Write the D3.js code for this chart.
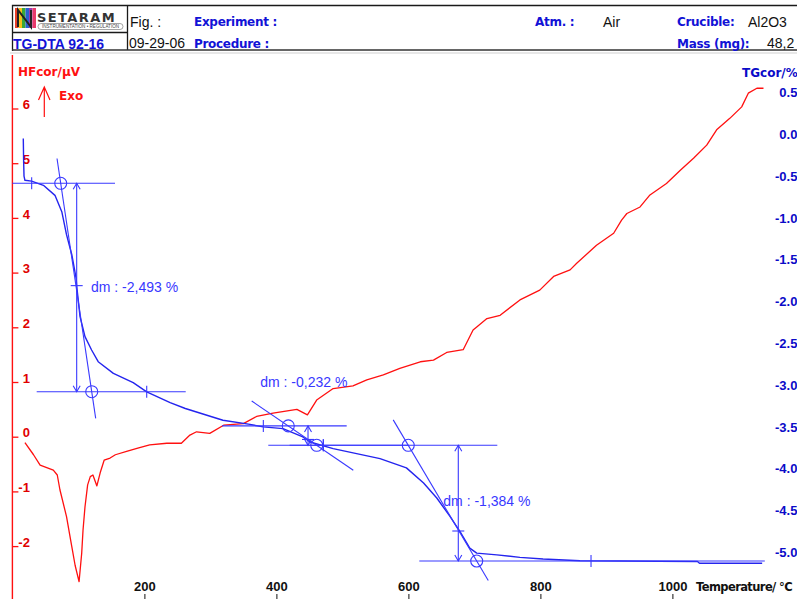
<!DOCTYPE html>
<html>
<head>
<meta charset="utf-8">
<script src="https://cdn.jsdelivr.net/npm/d3@7"></script>
<style>
  html, body { margin: 0; padding: 0; background: #fff; }
  svg { display: block; }
  text { font-family: "Liberation Sans", Arial, sans-serif; }
</style>
</head>
<body>
<svg id="chart" width="797" height="599"></svg>
<script>
// DTA signal: corrected heat flow (µV) against temperature (°C)
const dtaTemp = [19, 32, 42, 62, 68, 72, 82, 90, 95, 101,
                 105, 107, 110, 114, 118, 122, 128, 133, 139, 148,
                 156, 173, 190, 208, 234, 256, 269, 279, 299, 320,
                 350, 370, 395, 431, 447, 461, 486, 516, 537, 562,
                 587, 618, 638, 658, 683, 698, 704, 719, 739, 769,
                 799, 820, 845, 855, 885, 911, 923, 931, 951, 966,
                 991, 1012, 1032, 1052, 1067, 1087, 1105, 1115, 1128, 1138];
const dtaHF = [-0.11, -0.33, -0.52, -0.61, -0.70, -0.97, -1.46, -2.01, -2.35, -2.65,
               -2.13, -1.71, -1.28, -0.88, -0.73, -0.70, -0.90, -0.66, -0.43, -0.39,
               -0.33, -0.27, -0.21, -0.15, -0.12, -0.12, 0.03, 0.09, 0.06, 0.21,
               0.24, 0.37, 0.43, 0.50, 0.40, 0.67, 0.88, 0.93, 1.04, 1.13,
               1.25, 1.37, 1.40, 1.54, 1.59, 1.95, 2.01, 2.16, 2.22, 2.50,
               2.68, 2.93, 3.05, 3.17, 3.50, 3.72, 3.96, 4.08, 4.20, 4.42,
               4.63, 4.87, 5.09, 5.33, 5.61, 5.82, 6.03, 6.28, 6.37, 6.37];

// TG signal: corrected mass change (%) against temperature (°C)
const tgTemp = [16.5, 17, 17.6, 19, 29, 47, 64.5, 75, 82, 90,
                96.5, 97.5, 102.5, 110, 120, 130, 153, 183, 203.5, 239,
                262, 319, 360, 380, 410, 440, 451, 486, 557, 597,
                623, 643, 663, 678, 693, 703.5, 734, 769, 804, 860,
                1038, 1041, 1136];
const tgMass = [0, -0.26, -0.45, -0.50, -0.51, -0.56, -0.68, -0.88, -1.15, -1.39,
                -1.67, -1.77, -2.13, -2.37, -2.53, -2.67, -2.81, -2.92, -3.03, -3.16,
                -3.23, -3.37, -3.42, -3.45, -3.47, -3.57, -3.63, -3.71, -3.83, -3.94,
                -4.12, -4.30, -4.52, -4.70, -4.90, -4.96, -4.98, -5.01, -5.03, -5.05,
                -5.06, -5.08, -5.08];

// Axis ticks
const hfTicks = [-2, -1, 0, 1, 2, 3, 4, 5, 6];
const tgTicks = [0.5, 0, -0.5, -1, -1.5, -2, -2.5, -3, -3.5, -4, -4.5, -5];
const tempTicks = [200, 400, 600, 800, 1000];

// Mass-loss steps: starting level and mass change (%)
const stepUpper = [-0.536, -3.438, -3.670];
const stepDm = [-2.493, -0.232, -1.384];

// Step construction details, in temperature (°C) and TG (%) units
const stepGeom = [
  { upperLine: [0, 155.5], lowerLine: [36.8, 262.6], onsetT: 29.2, endT: 203.5,
    circT: [73.2, 120.2], tangentT: [67.6, 126.2], arrowT: 97.4, midW: -1.76, label: [119, -1.773] },
  { upperLine: [317.6, 506.5], lowerLine: [387.7, 600], onsetT: 380.2, endT: 471.1,
    circT: [418, 461.1], tangentT: [362.6, 516.5], arrowT: 447.9, midW: -3.60, label: [375.5, -2.909] },
  { upperLine: [420, 734.7], lowerLine: [616.5, 1140], onsetT: 471.1, endT: 876.7,
    circT: [599.8, 703.5], tangentT: [577, 721], arrowT: 675.6, midW: -4.695, label: [652.9, -4.336] }
];

const RED = "#ff1010";
const BLUE = "#2424ee";
const ANNO = "#3838ff";
const HEAD_BLUE = "#1212d6";

const svg = d3.select("#chart");
svg.append("rect").attr("width", 797).attr("height", 599).attr("fill", "#fff");

// Scales
const x = d3.scaleLinear().domain([0, 1200]).range([12.4, 804.4]);
const yHF = d3.scaleLinear().domain([-3, 7]).range([600.8, 53.8]);
const yTG = d3.scaleLinear().domain([-5.5, 1]).range([598.3, 54.9]);

// ---------- Header block ----------
const hdr = svg.append("g");
hdr.append("path")
  .attr("d", "M12.5,51V5.5H797 M127.5,5.5V50 M12.5,32.5H127.5")
  .attr("fill", "none").attr("stroke", "#1a1a1a").attr("stroke-width", 1.3);
hdr.append("line").attr("x1", 12).attr("x2", 797).attr("y1", 50).attr("y2", 50)
  .attr("stroke", "#333").attr("stroke-width", 1.5);
hdr.append("line").attr("x1", 10).attr("x2", 797).attr("y1", 53).attr("y2", 53)
  .attr("stroke", "#cfcfcf").attr("stroke-width", 1.2);

// Logo mark
const logoColors = ["#e8402a", "#f7c21a", "#3aa83a", "#2a62d0", "#9a3ab0", "#e83a6a"];
logoColors.forEach((c, i) => {
  hdr.append("rect").attr("x", 15 + i * 3.5).attr("y", 8).attr("width", 3.5).attr("height", 20).attr("fill", c);
});
hdr.append("path").attr("d", "M18,27V10L31,27V10").attr("fill", "none").attr("stroke", "#222").attr("stroke-width", 2);
hdr.append("text").attr("x", 37).attr("y", 21.5)
  .style("font-family", "'DejaVu Sans', sans-serif").style("font-weight", "bold")
  .style("font-size", "13px").style("letter-spacing", "1.4px").attr("fill", "#333").text("SETARAM");
hdr.append("rect").attr("x", 38).attr("y", 23.5).attr("width", 85).attr("height", 6).attr("rx", 3)
  .attr("fill", "none").attr("stroke", "#666").attr("stroke-width", 0.6);
hdr.append("text").attr("x", 80.5).attr("y", 28.3).attr("text-anchor", "middle")
  .style("font-size", "4.6px").attr("fill", "#444").text("INSTRUMENTATION • REGULATION");

const boldHead = (t, xx, yy, col) => hdr.append("text").attr("x", xx).attr("y", yy)
  .style("font-family", "'DejaVu Sans', sans-serif").style("font-weight", "bold")
  .style("font-size", "12px").style("letter-spacing", "-0.3px").attr("fill", col || HEAD_BLUE).text(t);
const plainHead = (t, xx, yy) => hdr.append("text").attr("x", xx).attr("y", yy)
  .style("font-size", "14px").attr("fill", "#111").text(t);

plainHead("Fig. :", 130, 26.5);
plainHead("09-29-06", 129, 48);
boldHead("Experiment :", 194, 26);
boldHead("Procedure :", 194, 47.5);
boldHead("Atm. :", 535, 26);
plainHead("Air", 603, 26.5);
boldHead("Crucible:", 677, 26);
plainHead("Al2O3", 748, 26.5);
boldHead("Mass (mg):", 677, 47.5);
plainHead("48,2", 767, 48);
hdr.append("text").attr("x", 13).attr("y", 48.5)
  .style("font-weight", "bold").style("font-size", "14px").attr("fill", HEAD_BLUE).text("TG-DTA 92-16");

// ---------- Axes ----------
const tickFont = g => g.selectAll("text")
  .style("font-family", "'Liberation Sans', Arial, sans-serif")
  .style("font-weight", "bold").style("font-size", "13px");

// Left heat-flow axis (ticks pointing into the plot)
const gL = svg.append("g").attr("transform", `translate(${x(0)},0)`)
  .call(d3.axisRight(yHF).tickValues(hfTicks).tickSize(6).tickFormat(d => String(d)));
gL.select(".domain").remove();
gL.selectAll(".tick line").attr("stroke", RED).attr("stroke-width", 1.3);
gL.selectAll(".tick text").attr("x", 17.5).attr("dy", "0.02em").attr("text-anchor", "end").attr("fill", "#e00000");
gL.call(tickFont);
svg.append("line").attr("x1", x(0)).attr("x2", x(0)).attr("y1", 55).attr("y2", 599)
  .attr("stroke", RED).attr("stroke-width", 1.4);

// Right TG axis
const gR = svg.append("g").attr("transform", `translate(${x(1200)},0)`)
  .call(d3.axisLeft(yTG).tickValues(tgTicks).tickSize(0).tickPadding(7).tickFormat(d => d.toFixed(1)));
gR.select(".domain").remove();
gR.selectAll(".tick text").attr("dy", "0.0em").attr("fill", "#0b0bc8");
gR.call(tickFont);

// Temperature axis along the bottom edge
const gB = svg.append("g").attr("transform", "translate(0,599)")
  .call(d3.axisTop(x).tickValues(tempTicks).tickSize(5).tickPadding(3).tickFormat(d => String(d)));
gB.select(".domain").remove();
gB.selectAll(".tick line").attr("stroke", "#111");
gB.selectAll(".tick text").attr("fill", "#111");
gB.call(tickFont);

// Axis titles
svg.append("text").attr("x", 18).attr("y", 76)
  .style("font-family", "'DejaVu Sans', sans-serif").style("font-weight", "bold").style("font-size", "12px")
  .attr("fill", RED).text("HFcor/µV");
svg.append("path").attr("d", "M44.3,117V87 M38.5,100L44.3,87L50,100")
  .attr("fill", "none").attr("stroke", RED).attr("stroke-width", 1.2);
svg.append("text").attr("x", 59).attr("y", 99.5)
  .style("font-family", "'DejaVu Sans', sans-serif").style("font-weight", "bold").style("font-size", "12px")
  .attr("fill", RED).text("Exo");
svg.append("text").attr("x", 742).attr("y", 77)
  .style("font-family", "'DejaVu Sans', sans-serif").style("font-weight", "bold").style("font-size", "12px")
  .attr("fill", "#0b0bc8").text("TGcor/%");
svg.append("text").attr("x", 696).attr("y", 591)
  .style("font-family", "'DejaVu Sans', sans-serif").style("font-weight", "bold").style("font-size", "11.5px")
  .style("letter-spacing", "-0.6px").attr("fill", "#111").text("Temperature/ °C");

// ---------- Curves ----------
const dtaLine = d3.line().x(d => x(d[0])).y(d => yHF(d[1]));
svg.append("path").datum(d3.zip(dtaTemp, dtaHF)).attr("d", dtaLine)
  .attr("fill", "none").attr("stroke", RED).attr("stroke-width", 1.3).attr("stroke-linejoin", "round");

const tgLine = d3.line().x(d => x(d[0])).y(d => yTG(d[1]));
svg.append("path").datum(d3.zip(tgTemp, tgMass)).attr("d", tgLine)
  .attr("fill", "none").attr("stroke", BLUE).attr("stroke-width", 1.4).attr("stroke-linejoin", "round");

// ---------- Step evaluation constructions ----------
const fmtDm = v => d3.format(".3f")(v).replace(".", ",").replace("−", "-");
const anno = svg.append("g").attr("fill", "none").attr("stroke", ANNO).attr("stroke-width", 1.1);

stepGeom.forEach((g, i) => {
  const wU = stepUpper[i];
  const wL = stepUpper[i] + stepDm[i];
  const yU = yTG(wU), yL = yTG(wL);

  // extrapolated base lines
  anno.append("line").attr("x1", x(g.upperLine[0])).attr("x2", x(g.upperLine[1])).attr("y1", yU).attr("y2", yU);
  anno.append("line").attr("x1", x(g.lowerLine[0])).attr("x2", x(g.lowerLine[1])).attr("y1", yL).attr("y2", yL);

  // limit marks on the base lines
  anno.append("line").attr("x1", x(g.onsetT)).attr("x2", x(g.onsetT)).attr("y1", yU - 6).attr("y2", yU + 6);
  anno.append("line").attr("x1", x(g.endT)).attr("x2", x(g.endT)).attr("y1", yL - 6).attr("y2", yL + 6);

  // inflection tangent through the two intersection points
  const slope = (wL - wU) / (g.circT[1] - g.circT[0]);
  const wAt = t => wU + slope * (t - g.circT[0]);
  anno.append("line")
    .attr("x1", x(g.tangentT[0])).attr("y1", yTG(wAt(g.tangentT[0])))
    .attr("x2", x(g.tangentT[1])).attr("y2", yTG(wAt(g.tangentT[1])));

  // intersection circles
  anno.append("circle").attr("cx", x(g.circT[0])).attr("cy", yU).attr("r", 6);
  anno.append("circle").attr("cx", x(g.circT[1])).attr("cy", yL).attr("r", 6);

  // double-headed dm arrow
  const ax = x(g.arrowT);
  anno.append("line").attr("x1", ax).attr("x2", ax).attr("y1", yU).attr("y2", yL);
  const h = Math.min(6, Math.abs(yL - yU) / 3);
  anno.append("path").attr("d", `M${ax - 3.5},${yU + h}L${ax},${yU}L${ax + 3.5},${yU + h}`);
  anno.append("path").attr("d", `M${ax - 3.5},${yL - h}L${ax},${yL}L${ax + 3.5},${yL - h}`);
  anno.append("line").attr("x1", ax - 6).attr("x2", ax + 6).attr("y1", yTG(g.midW)).attr("y2", yTG(g.midW));

  // mass-change label
  svg.append("text").attr("x", x(g.label[0])).attr("y", yTG(g.label[1])).attr("dy", "0.35em")
    .style("font-size", "14px").attr("fill", ANNO)
    .text(`dm : ${fmtDm(stepDm[i])} %`);
});
</script>
</body>
</html>
